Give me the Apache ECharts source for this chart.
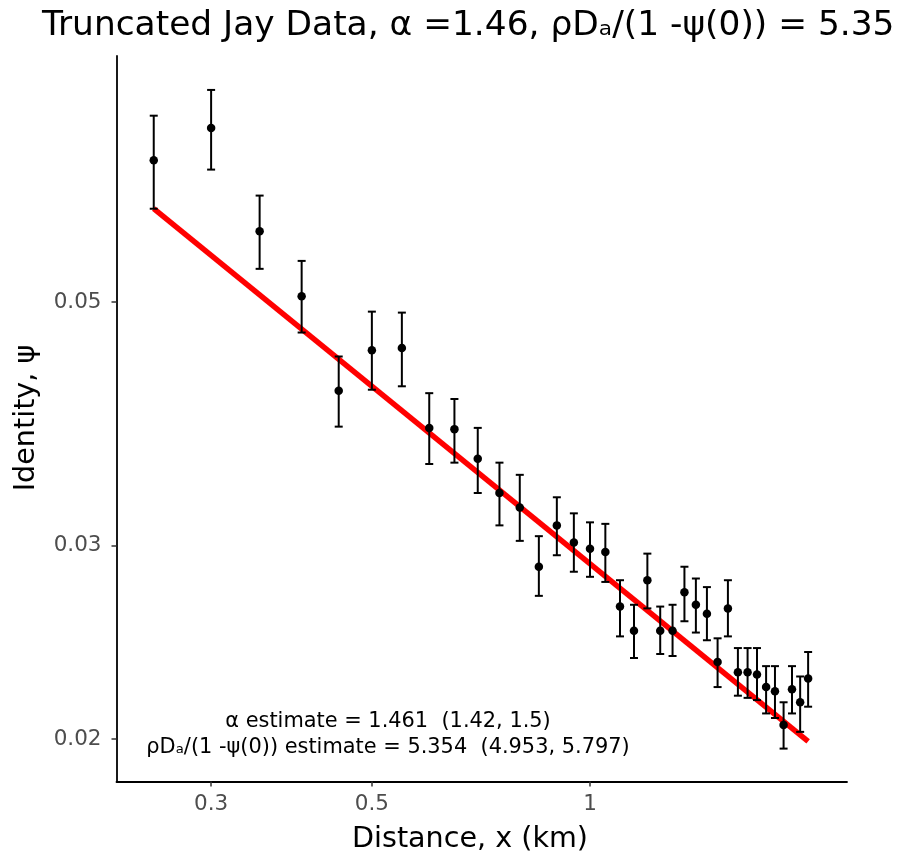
<!DOCTYPE html>
<html>
<head>
<meta charset="utf-8">
<script src="https://cdn.jsdelivr.net/npm/echarts@6/dist/echarts.min.js"></script>
<style>html,body{margin:0;padding:0;background:#fff;}#c{width:898px;height:856px;}</style>
</head>
<body>
<div id="c"></div>
<script>
// Data (distance in km, identity psi)
const xValues = [0.25,0.30,0.35,0.40,0.45,0.50,0.55,0.60,0.65,0.70,0.75,0.80,0.85,0.90,0.95,1.00,1.05,1.10,1.15,1.20,1.25,1.30,1.35,1.40,1.45,1.50,1.55,1.60,1.65,1.70,1.75,1.80,1.85,1.90,1.95,2.00];
const yValues = [0.0673,0.0720,0.0580,0.0506,0.0415,0.0452,0.0454,0.0384,0.0383,0.0360,0.0335,0.0325,0.0287,0.0313,0.0302,0.0298,0.0296,0.0264,0.0251,0.0279,0.0251,0.0251,0.0272,0.0265,0.0260,0.0235,0.0263,0.0230,0.0230,0.0229,0.0223,0.0221,0.0206,0.0222,0.0216,0.0227];
const yLower  = [0.0608,0.0660,0.0536,0.0469,0.0385,0.0416,0.0419,0.0356,0.0357,0.0335,0.0313,0.0303,0.0270,0.0294,0.0284,0.0281,0.0278,0.0248,0.0237,0.0263,0.0239,0.0238,0.0256,0.0250,0.0246,0.0223,0.0248,0.0219,0.0218,0.0217,0.0211,0.0209,0.0196,0.0211,0.0203,0.0214];
const yUpper  = [0.0739,0.0780,0.0625,0.0545,0.0446,0.0490,0.0489,0.0413,0.0408,0.0384,0.0357,0.0348,0.0306,0.0332,0.0321,0.0315,0.0314,0.0279,0.0265,0.0295,0.0264,0.0265,0.0287,0.0280,0.0275,0.0247,0.0279,0.0242,0.0242,0.0242,0.0233,0.0233,0.0216,0.0233,0.0228,0.0240];
// Fitted curve
const fitX = [0.25, 2.00];
const fitY = [0.0608, 0.0199];
// Ticks
const xTicks = [0.3, 0.5, 1];
const xTickLabels = ['0.3', '0.5', '1'];
const yTicks = [0.02, 0.03, 0.05];
const yTickLabels = ['0.02', '0.03', '0.05'];

const L = Math.log10;
const FONT = 'DejaVu Sans';
function lab(ticks, labels) {
  return function (v) {
    let best = 0, bd = Infinity;
    ticks.forEach((t, i) => { const d = Math.abs(L(t) - v); if (d < bd) { bd = d; best = i; } });
    return labels[best];
  };
}

const chart = echarts.init(document.getElementById('c'));
chart.setOption({
  animation: false,
  backgroundColor: '#fff',
  grid: { left: 116.5, right: 51, top: 56, bottom: 74.5 },
  xAxis: {
    type: 'value', min: L(0.2221), max: L(2.263),
    axisLine: { onZero: false, lineStyle: { color: '#000', width: 1.8 } },
    axisTick: { customValues: xTicks.map(L), length: 5, lineStyle: { color: '#333', width: 1.5 } },
    axisLabel: { customValues: xTicks.map(L), formatter: lab(xTicks, xTickLabels), color: '#4d4d4d', fontSize: 21.5, fontFamily: FONT, margin: 12 },
    splitLine: { show: false }
  },
  yAxis: {
    type: 'value', min: -1.7377, max: -1.0770,
    axisLine: { onZero: false, lineStyle: { color: '#000', width: 1.8 } },
    axisTick: { customValues: yTicks.map(L), length: 5, lineStyle: { color: '#333', width: 1.5 } },
    axisLabel: { customValues: yTicks.map(L), formatter: lab(yTicks, yTickLabels), color: '#4d4d4d', fontSize: 21.5, fontFamily: FONT, margin: 15 },
    splitLine: { show: false }
  },
  series: [
    {
      type: 'line', data: fitX.map((x, i) => [L(x), L(fitY[i])]),
      symbol: 'none', lineStyle: { color: '#ff0000', width: 5.5 }, z: 1, silent: true
    },
    {
      type: 'custom', z: 2,
      data: xValues.map((x, i) => [L(x), L(yLower[i]), L(yUpper[i])]),
      renderItem: function (params, api) {
        const p1 = api.coord([api.value(0), api.value(1)]);
        const p2 = api.coord([api.value(0), api.value(2)]);
        const w = 4;
        const st = { stroke: '#000', lineWidth: 2 };
        return {
          type: 'group',
          children: [
            { type: 'line', shape: { x1: p1[0], y1: p1[1], x2: p2[0], y2: p2[1] }, style: st },
            { type: 'line', shape: { x1: p1[0] - w, y1: p1[1], x2: p1[0] + w, y2: p1[1] }, style: st },
            { type: 'line', shape: { x1: p2[0] - w, y1: p2[1], x2: p2[0] + w, y2: p2[1] }, style: st }
          ]
        };
      }
    },
    {
      type: 'scatter', z: 3, symbolSize: 8.5,
      itemStyle: { color: '#000', opacity: 1 },
      data: xValues.map((x, i) => [L(x), L(yValues[i])])
    }
  ],
  graphic: [
    { type: 'text', x: 42, y: 26, style: { text: 'Truncated Jay Data, α =1.46, ρDₐ/(1 -ψ(0)) = 5.35', font: '34.4px "DejaVu Sans"', fill: '#000', align: 'left', verticalAlign: 'middle' } },
    { type: 'text', x: 470, y: 840, style: { text: 'Distance, x (km)', font: '28.6px "DejaVu Sans"', fill: '#000', align: 'center', verticalAlign: 'middle' } },
    { type: 'text', x: 27, y: 418, rotation: Math.PI / 2, style: { text: 'Identity, ψ', font: '28.6px "DejaVu Sans"', fill: '#000', align: 'center', verticalAlign: 'middle' } },
    { type: 'text', x: 388, y: 722, style: { text: 'α estimate = 1.461  (1.42, 1.5)', font: '20.9px "DejaVu Sans"', fill: '#000', align: 'center', verticalAlign: 'middle' } },
    { type: 'text', x: 388, y: 748, style: { text: 'ρDₐ/(1 -ψ(0)) estimate = 5.354  (4.953, 5.797)', font: '20.9px "DejaVu Sans"', fill: '#000', align: 'center', verticalAlign: 'middle' } }
  ]
});
</script>
</body>
</html>
